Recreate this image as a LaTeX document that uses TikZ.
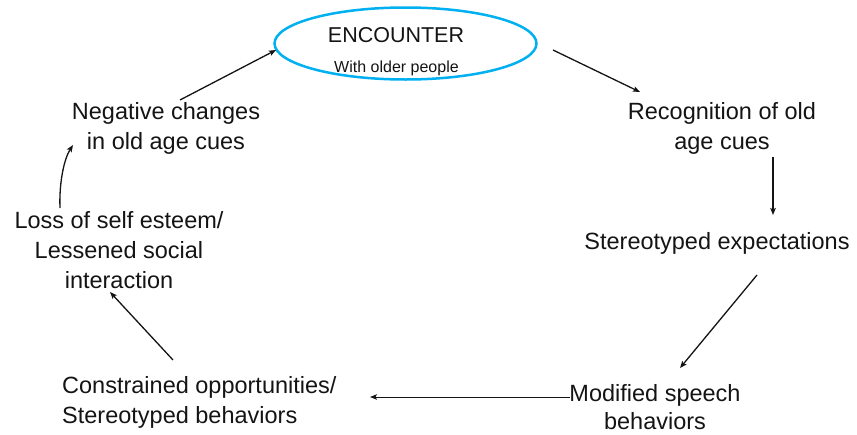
\documentclass[tikz,border=0pt]{standalone}
\usepackage{fontspec}
\setmainfont{Liberation Sans}
\usetikzlibrary{shapes.geometric,arrows.meta}
\definecolor{encblue}{RGB}{0,176,240}
\definecolor{txt}{RGB}{20,20,20}
\tikzset{
  lbl/.style={inner sep=0pt, text=txt, font=\fontsize{23.5}{30}\selectfont},
  flow/.style={draw=txt, line width=1.3pt, -{Stealth[length=7pt,width=5.5pt,inset=1.5pt]}},
}
\begin{document}
\begin{tikzpicture}[x=1pt,y=-1pt]
\useasboundingbox (0,0) rectangle (857,434);
\node[ellipse, draw=encblue, line width=2.5pt, minimum width=262pt, minimum height=72pt, inner sep=0pt] (enc) at (405.5,43.5) {};
\node[lbl, font=\fontsize{21.5}{26}\selectfont] (enctitle) at (396,35) {ENCOUNTER};
\node[lbl, font=\fontsize{16}{20}\selectfont] (encsub) at (396.5,68) {With older people};
\node[lbl, align=center] (neg) at (166,128) {Negative changes\\in old age cues};
\node[lbl, align=center] (rec) at (722,128) {Recognition of old\\age cues};
\node[lbl, align=center] (ste) at (717,243) {Stereotyped expectations};
\node[lbl, align=center, font=\fontsize{23.5}{28}\selectfont] (mod) at (655,407) {Modified speech\\behaviors};
\node[lbl, align=left, anchor=west] (con) at (62,402.5) {Constrained opportunities/\\Stereotyped behaviors};
\node[lbl, align=center] (loss) at (119,250) {Loss of self esteem/\\Lessened social\\interaction};
\draw[flow] ([shift={(14,-28)}]neg.center) -- ([shift={(-129.5,6.5)}]enc.center);
\draw[flow] ([shift={(147.5,6.5)}]enc.center) -- ([shift={(-82,-36)}]rec.center);
\draw[flow] ([shift={(51,29)}]rec.center) -- ([shift={(56,-28)}]ste.center);
\draw[flow] ([shift={(40,32)}]ste.center) -- ([shift={(25,-39)}]mod.center);
\draw[flow, line width=1pt] ([shift={(-85,-10)}]mod.center) -- ([shift={(308,-5.5)}]con.west);
\draw[flow] ([shift={(111,-42.5)}]con.west) -- ([shift={(-9,42)}]loss.center);
\draw[flow] ([shift={(-59,-42)}]loss.center) .. controls +(-1,-25) and +(-9,14) .. ([shift={(-93,17)}]neg.center);
\end{tikzpicture}
\end{document}
